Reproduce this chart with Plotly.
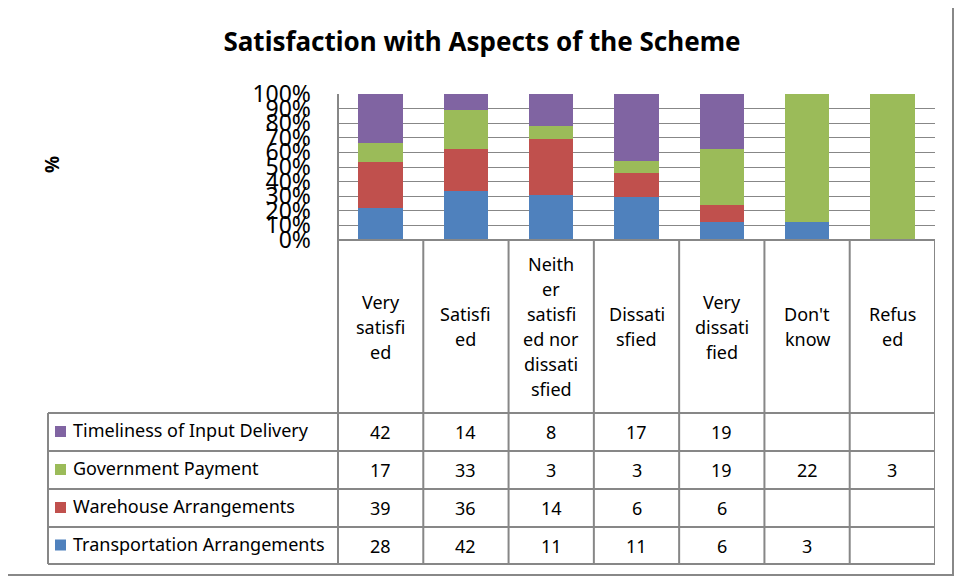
import plotly.graph_objects as go

# ---------------- data ----------------
categories = ["Very satisfied", "Satisfied", "Neither satisfied nor dissatisfied",
              "Dissatisfied", "Very dissatisfied", "Don't know", "Refused"]
header_lines = [["Very", "satisfi", "ed"], ["Satisfi", "ed"],
                ["Neith", "er", "satisfi", "ed nor", "dissati", "sfied"],
                ["Dissati", "sfied"], ["Very", "dissati", "fied"],
                ["Don't", "know"], ["Refus", "ed"]]
transportation = [28, 42, 11, 11, 6, 3, None]
warehouse = [39, 36, 14, 6, 6, None, None]
government = [17, 33, 3, 3, 19, 22, 3]
timeliness = [42, 14, 8, 17, 19, None, None]
series_names = ["Transportation Arrangements", "Warehouse Arrangements",
                "Government Payment", "Timeliness of Input Delivery"]
series_values = [transportation, warehouse, government, timeliness]
series_colors = ["#4F81BD", "#C0504D", "#9BBB59", "#8064A2"]
y_tick_values = [0, 10, 20, 30, 40, 50, 60, 70, 80, 90, 100]
y_tick_labels = ["0%", "10%", "20%", "30%", "40%", "50%", "60%", "70%", "80%", "90%", "100%"]
title_text = "Satisfaction with Aspects of the Scheme"
y_title = "%"

# ---------------- layout geometry (pixels in the 964x579 window) ----------------
OFF = 8                   # page body margin
W, H = 964 - OFF, 579 - OFF
PX0, PX1 = 338, 935       # plot area left/right
PY_TOP, PY_BOT = 94, 240  # plot area top/bottom
FONT = "Noto Sans"
GRID = "#878787"


def xp(px):
    return (px - PX0) / (PX1 - PX0)


def yp(py):
    return (PY_BOT - py) / (PY_BOT - PY_TOP)


fig = go.Figure()
for name, vals, col in zip(series_names, series_values, series_colors):
    fig.add_trace(go.Bar(
        x=categories, y=[v if v is not None else 0 for v in vals],
        name=name, marker=dict(color=col, line=dict(width=0)),
        showlegend=False))

shapes = []
annotations = []

# table geometry
header_bottom = 413
row_edges = [413, 451, 489, 527, 564]
legend_left = 48

# horizontal table lines
shapes.append(dict(type="line", xref="paper", yref="paper",
                   x0=xp(PX0), x1=xp(PX1), y0=yp(PY_BOT), y1=yp(PY_BOT),
                   line=dict(color=GRID, width=2)))
for ry in row_edges:
    shapes.append(dict(type="line", xref="paper", yref="paper",
                       x0=xp(legend_left), x1=xp(PX1), y0=yp(ry), y1=yp(ry),
                       line=dict(color=GRID, width=2)))
# vertical table lines
shapes.append(dict(type="line", xref="paper", yref="paper",
                   x0=xp(legend_left), x1=xp(legend_left),
                   y0=yp(row_edges[0]), y1=yp(row_edges[-1]),
                   line=dict(color=GRID, width=2)))
shapes.append(dict(type="line", xref="paper", yref="paper",
                   x0=xp(PX0), x1=xp(PX0), y0=yp(PY_TOP), y1=yp(row_edges[-1]),
                   line=dict(color=GRID, width=2)))
for i in range(len(categories)):
    shapes.append(dict(type="line", xref="x", yref="paper",
                       x0=i + 0.5, x1=i + 0.5, y0=yp(PY_BOT), y1=yp(row_edges[-1]),
                       line=dict(color=GRID, width=2)))

# header category labels
hc = (PY_BOT + header_bottom) / 2
line_gap = 25
for i, lines in enumerate(header_lines):
    n = len(lines)
    for k, t in enumerate(lines):
        py = hc + (k - (n - 1) / 2) * line_gap
        annotations.append(dict(x=i, y=yp(py), xref="x", yref="paper", text=t,
                                showarrow=False, xanchor="center", yanchor="middle",
                                font=dict(family=FONT, size=18, color="#000")))

# legend rows: top to bottom reversed series order
order = list(range(len(series_names)))[::-1]
for r, si in enumerate(order):
    cy = (row_edges[r] + row_edges[r + 1]) / 2
    shapes.append(dict(type="rect", xref="paper", yref="paper",
                       x0=xp(55), x1=xp(66), y0=yp(cy - 6), y1=yp(cy + 5),
                       fillcolor=series_colors[si], line=dict(width=0)))
    annotations.append(dict(x=xp(71), y=yp(cy - 2), xref="paper", yref="paper",
                            text=series_names[si], showarrow=False,
                            xanchor="left", yanchor="middle",
                            font=dict(family=FONT, size=18, color="#000")))
    for i, v in enumerate(series_values[si]):
        if v is None:
            continue
        annotations.append(dict(x=i, y=yp(cy), xref="x", yref="paper",
                                text=str(v), showarrow=False,
                                xanchor="center", yanchor="middle",
                                font=dict(family=FONT, size=18, color="#000")))

# axis title
annotations.append(dict(x=xp(52), y=yp(165), xref="paper", yref="paper",
                        text="<b>" + y_title + "</b>", showarrow=False, textangle=-90,
                        xanchor="center", yanchor="middle",
                        font=dict(family=FONT, size=19, color="#000")))

# outer border
shapes.append(dict(type="rect", xref="paper", yref="paper",
                   x0=xp(2), x1=xp(953), y0=yp(2), y1=yp(575),
                   line=dict(color="#888888", width=2), fillcolor="rgba(0,0,0,0)"))

fig.update_layout(
    width=W, height=H,
    barmode="stack", barnorm="percent", bargap=0.48,
    plot_bgcolor="white", paper_bgcolor="white",
    margin=dict(l=PX0 - OFF, r=W - (PX1 - OFF), t=PY_TOP - OFF, b=H - (PY_BOT - OFF), pad=0),
    title=dict(text="<b>" + title_text + "</b>", x=(482 - OFF) / W, xanchor="center",
               y=1 - (42 - OFF) / H, yanchor="middle", yref="container",
               font=dict(family=FONT, size=26, color="#000")),
    xaxis=dict(range=[-0.5, len(categories) - 0.5], showticklabels=False,
               showgrid=False, zeroline=False, showline=False, ticks=""),
    yaxis=dict(range=[0, 100], tickvals=y_tick_values, ticktext=y_tick_labels,
               showgrid=True, gridcolor=GRID, gridwidth=1.3, zeroline=False,
               showline=False, ticks="", ticklabelstandoff=26,
               tickfont=dict(family=FONT, size=23, color="#000")),
    shapes=shapes, annotations=annotations,
    font=dict(family=FONT),
)

fig.write_html("out.html")
